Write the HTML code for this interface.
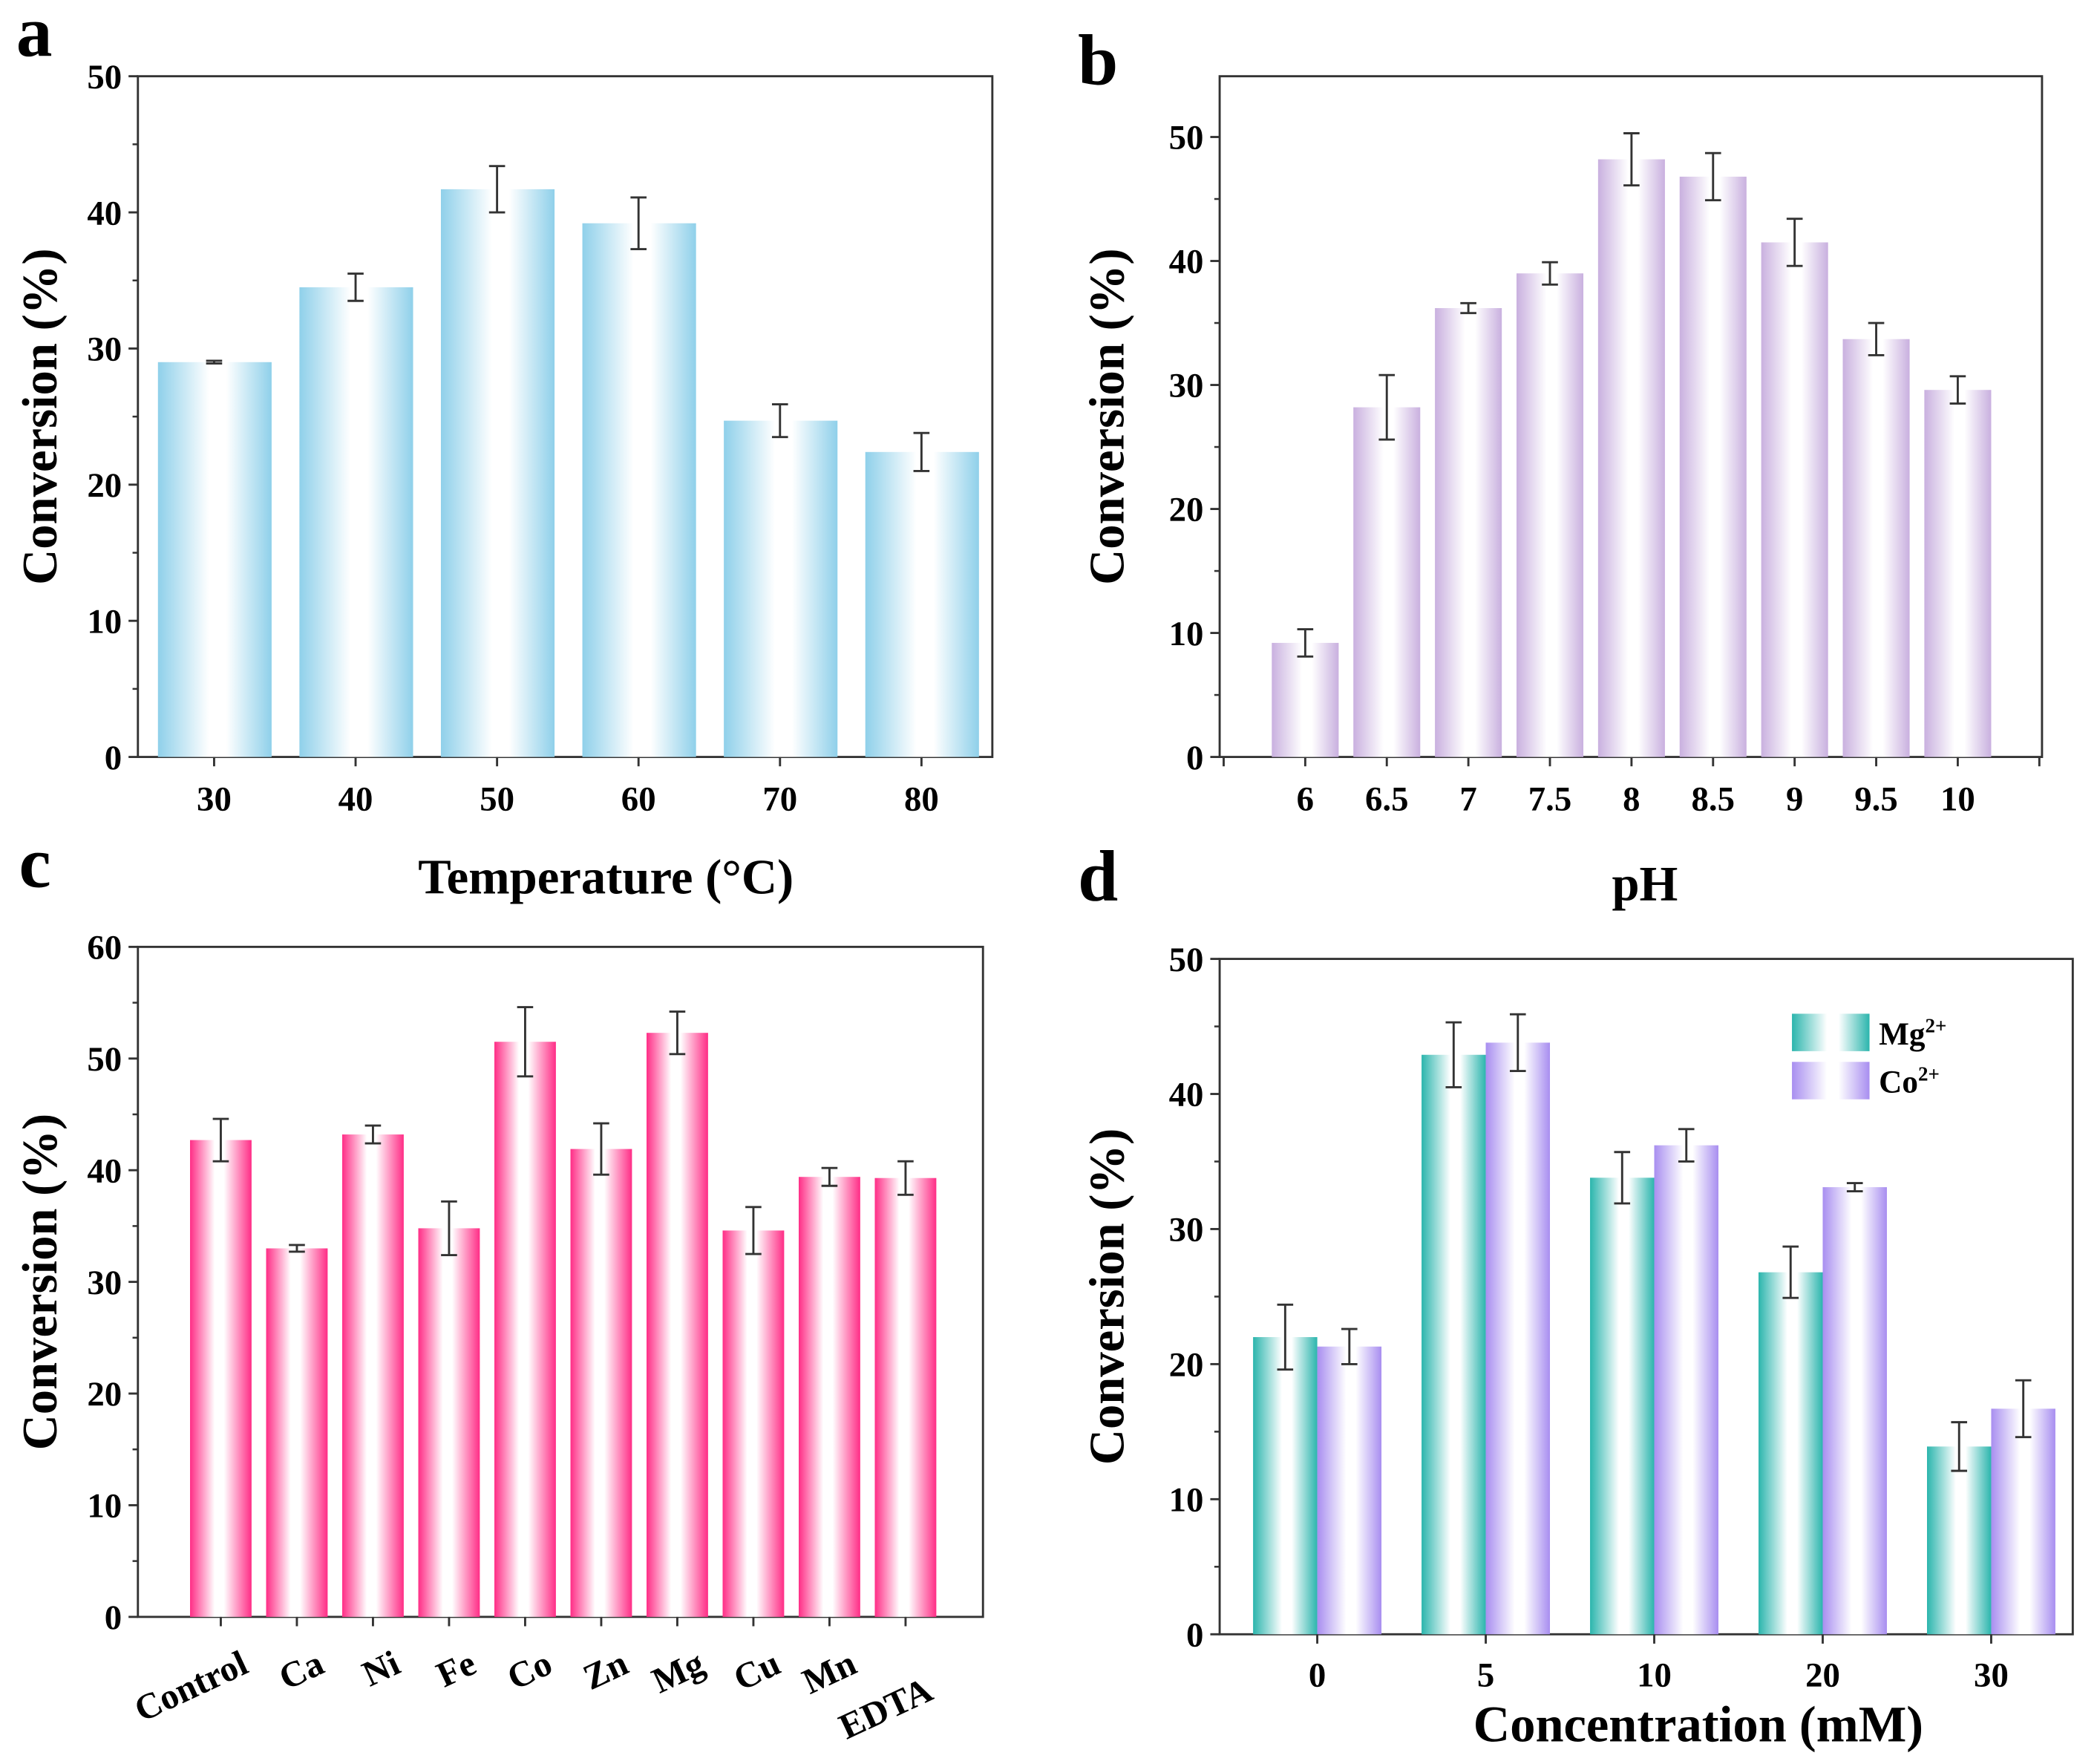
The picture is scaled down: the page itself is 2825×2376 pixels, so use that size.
<!DOCTYPE html>
<html><head><meta charset="utf-8"><style>html,body{margin:0;padding:0;background:#fff}svg{display:block}</style></head>
<body>
<svg id="fig" xmlns="http://www.w3.org/2000/svg" width="2825" height="2376" viewBox="0 0 1568 1319" font-family="'Liberation Serif', serif" font-weight="bold">
<defs>
<linearGradient id="gBlue" x1="0" x2="1" y1="0" y2="0"><stop offset="0" stop-color="#8fd0ea"/><stop offset="0.45" stop-color="#ffffff"/><stop offset="0.6" stop-color="#ffffff"/><stop offset="1" stop-color="#8fd0ea"/></linearGradient>
<linearGradient id="gPurple" x1="0" x2="1" y1="0" y2="0"><stop offset="0" stop-color="#c9b0df"/><stop offset="0.45" stop-color="#ffffff"/><stop offset="0.6" stop-color="#ffffff"/><stop offset="1" stop-color="#c9b0df"/></linearGradient>
<linearGradient id="gPink" x1="0" x2="1" y1="0" y2="0"><stop offset="0" stop-color="#ff2d86"/><stop offset="0.4" stop-color="#ffffff"/><stop offset="0.55" stop-color="#ffffff"/><stop offset="1" stop-color="#ff2d86"/></linearGradient>
<linearGradient id="gTeal" x1="0" x2="1" y1="0" y2="0"><stop offset="0" stop-color="#2bb5ad"/><stop offset="0.45" stop-color="#ffffff"/><stop offset="0.6" stop-color="#ffffff"/><stop offset="1" stop-color="#2bb5ad"/></linearGradient>
<linearGradient id="gViolet" x1="0" x2="1" y1="0" y2="0"><stop offset="0" stop-color="#a88ef0"/><stop offset="0.45" stop-color="#ffffff"/><stop offset="0.6" stop-color="#ffffff"/><stop offset="1" stop-color="#a88ef0"/></linearGradient>
</defs>
</svg>
<script>
// Panel a
const aCats=["30","40","50","60","70","80"];
const aVals=[29,34.5,41.7,39.2,24.7,22.4];
const aErr=[0.1,1,1.7,1.9,1.2,1.4];
const aTicks=[0,10,20,30,40,50];
// Panel b
const bCats=["6","6.5","7","7.5","8","8.5","9","9.5","10"];
const bVals=[9.2,28.2,36.2,39,48.2,46.8,41.5,33.7,29.6];
const bErr=[1.1,2.6,0.4,0.9,2.1,1.9,1.9,1.3,1.1];
const bTicks=[0,10,20,30,40,50];
// Panel c
const cCats=["Control","Ca","Ni","Fe","Co","Zn","Mg","Cu","Mn","EDTA"];
const cVals=[42.7,33,43.2,34.8,51.5,41.9,52.3,34.6,39.4,39.3];
const cErr=[1.9,0.3,0.8,2.4,3.1,2.3,1.9,2.1,0.8,1.5];
const cTicks=[0,10,20,30,40,50,60];
// Panel d
const dCats=["0","5","10","20","30"];
const dMg=[22,42.9,33.8,26.8,13.9];
const dMgErr=[2.4,2.4,1.9,1.9,1.8];
const dCo=[21.3,43.8,36.2,33.1,16.7];
const dCoErr=[1.3,2.1,1.2,0.3,2.1];
const dTicks=[0,10,20,30,40,50];

const NS="http://www.w3.org/2000/svg";
const svg=document.getElementById('fig');
function mk(tag,attrs,parent,text){const e=document.createElementNS(NS,tag);for(const k in attrs)e.setAttribute(k,attrs[k]);if(text!==undefined)e.textContent=text;(parent||svg).appendChild(e);return e;}
const TF=26;
function panel(o){
  const g=mk('g',{});
  
  
  const y=v=>o.y0-(v-o.ymin)/(o.ymax-o.ymin)*(o.y0-o.y1);
  const fr=mk('rect',{x:o.x0,y:o.y1,width:o.x1-o.x0,height:o.y0-o.y1,fill:'none',stroke:'#333','stroke-width':1.6},g);
  
  
  o.ticks.forEach((t,i)=>{
    const yy=y(t);
    mk('line',{x1:o.x0-7,x2:o.x0,y1:yy,y2:yy,stroke:'#333','stroke-width':1.6},g);
    const lb=mk('text',{x:o.x0-12,y:yy+9,'text-anchor':'end','font-size':TF},g,String(t));
    
    
    if(i<o.ticks.length-1){const ym=y((t+o.ticks[i+1])/2);mk('line',{x1:o.x0-4,x2:o.x0,y1:ym,y2:ym,stroke:'#333','stroke-width':1.4},g);}
  });
  const yt=mk('text',{transform:`translate(${o.ylx},${(o.y0+o.y1)/2}) rotate(-90)`,'text-anchor':'middle','font-size':37},g,'Conversion (%)');
  
  
  return {g,y};
}
function bar(g,x,w,yv,y0,fill,name){const r=mk('rect',{x:x,y:yv,width:w,height:y0-yv,fill:fill},g);return r;}
function err(g,cx,yt,yb){const e=mk('path',{d:`M${cx-6},${yt}H${cx+6}M${cx},${yt}V${yb}M${cx-6},${yb}H${cx+6}`,stroke:'#333','stroke-width':1.6,fill:'none'},g);}
function letter(t,x,yy){const l=mk('text',{x:x,y:yy,'font-size':54},svg,t);}

// a
(function(){
  const o={name:'panel-a',x0:103,x1:742,y0:566,y1:57,ymin:0,ymax:50,ticks:aTicks,ylx:42};
  const {g,y}=panel(o);
  const xs=i=>160+i*105.8;
  aCats.forEach((c,i)=>{
    const cx=xs(i);
    bar(g,cx-42,85,y(aVals[i]),o.y0,'url(#gBlue)','bar-'+c);
    err(g,cx,y(aVals[i]+aErr[i]),y(aVals[i]-aErr[i]));
    mk('line',{x1:cx,x2:cx,y1:o.y0,y2:o.y0+7,stroke:'#333','stroke-width':1.6},g);
    const t=mk('text',{x:cx,y:606,'text-anchor':'middle','font-size':TF},g,c);
  });
  const xt=mk('text',{x:453,y:668,'text-anchor':'middle','font-size':37},g,'Temperature (°C)');
})();
// b
(function(){
  const o={name:'panel-b',x0:912,x1:1527,y0:566,y1:57,ymin:0,ymax:54.9,ticks:bTicks,ylx:840};
  const {g,y}=panel(o);
  const xs=i=>976+i*61;
  mk('line',{x1:915,x2:915,y1:o.y0,y2:o.y0+7,stroke:'#333','stroke-width':1.6},g);
  mk('line',{x1:1525,x2:1525,y1:o.y0,y2:o.y0+7,stroke:'#333','stroke-width':1.6},g);
  bCats.forEach((c,i)=>{
    const cx=xs(i);
    bar(g,cx-25,50,y(bVals[i]),o.y0,'url(#gPurple)','bar-ph-'+c);
    err(g,cx,y(bVals[i]+bErr[i]),y(bVals[i]-bErr[i]));
    mk('line',{x1:cx,x2:cx,y1:o.y0,y2:o.y0+7,stroke:'#333','stroke-width':1.6},g);
    const t=mk('text',{x:cx,y:606,'text-anchor':'middle','font-size':TF},g,c);
  });
  const xt=mk('text',{x:1230,y:673,'text-anchor':'middle','font-size':37},g,'pH');
})();
// c
(function(){
  const o={name:'panel-c',x0:103,x1:735,y0:1209,y1:708,ymin:0,ymax:60,ticks:cTicks,ylx:42};
  const {g,y}=panel(o);
  const xs=i=>165+i*56.9;
  cCats.forEach((c,i)=>{
    const cx=xs(i);
    bar(g,cx-23,46,y(cVals[i]),o.y0,'url(#gPink)','bar-'+c);
    err(g,cx,y(cVals[i]+cErr[i]),y(cVals[i]-cErr[i]));
    mk('line',{x1:cx,x2:cx,y1:o.y0,y2:o.y0+7,stroke:'#333','stroke-width':1.6},g);
    const t=mk('text',{transform:`translate(${cx+22},${1250+(i==9?20:0)}) rotate(-25)`,'text-anchor':'end','font-size':27},g,c);
  });
})();
// d
(function(){
  const o={name:'panel-d',x0:912,x1:1550,y0:1222,y1:717,ymin:0,ymax:50,ticks:dTicks,ylx:840};
  const {g,y}=panel(o);
  const xs=i=>985+i*126;
  dCats.forEach((c,i)=>{
    const cx=xs(i);
    bar(g,cx-48,48,y(dMg[i]),o.y0,'url(#gTeal)','bar-mg-'+c);
    err(g,cx-24,y(dMg[i]+dMgErr[i]),y(dMg[i]-dMgErr[i]));
    bar(g,cx,48,y(dCo[i]),o.y0,'url(#gViolet)','bar-co-'+c);
    err(g,cx+24,y(dCo[i]+dCoErr[i]),y(dCo[i]-dCoErr[i]));
    mk('line',{x1:cx,x2:cx,y1:o.y0,y2:o.y0+7,stroke:'#333','stroke-width':1.6},g);
    const t=mk('text',{x:cx,y:1261,'text-anchor':'middle','font-size':TF},g,c);
  });
  const xt=mk('text',{x:1270,y:1302,'text-anchor':'middle','font-size':38},g,'Concentration (mM)');
  const lg=mk('g',{},g);
  const l1=mk('rect',{x:1340,y:758,width:58,height:28,fill:'url(#gTeal)'},lg);
  const l2=mk('rect',{x:1340,y:794,width:58,height:28,fill:'url(#gViolet)'},lg);
  const t1=mk('text',{x:1405,y:781,'font-size':24},lg);
  t1.innerHTML='Mg<tspan dy="-9" font-size="15">2+</tspan>';
  const t2=mk('text',{x:1405,y:817,'font-size':24},lg);
  t2.innerHTML='Co<tspan dy="-9" font-size="15">2+</tspan>';
})();
letter('a',12,42);letter('b',806,63);letter('c',14,663);letter('d',806,673);
</script>
</body></html>
